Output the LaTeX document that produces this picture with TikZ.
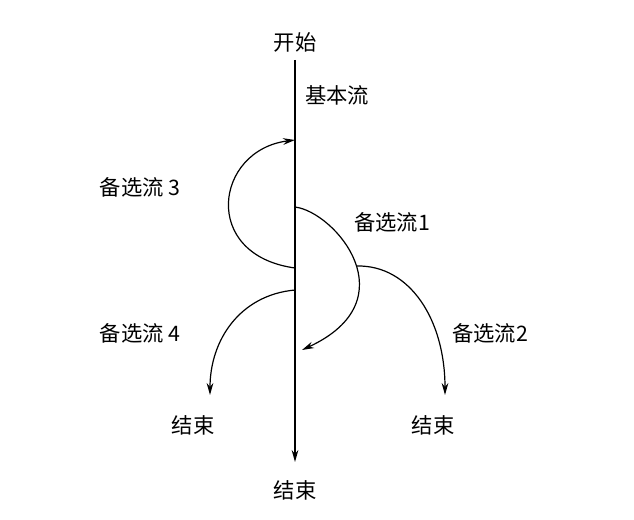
\documentclass[tikz,border=0pt]{standalone}
\usepackage{fontspec}
\newfontfamily\cjk{Noto Sans CJK SC}
\usetikzlibrary{arrows.meta}
\begin{document}
\begin{tikzpicture}[x=0.75pt,y=-0.75pt,
  lbl/.style={font=\cjk\fontsize{16}{19}\selectfont, inner sep=1pt},
  flow/.style={line width=0.9pt,-{Stealth[length=9pt,width=5pt]}}]
\useasboundingbox (0,0) rectangle (634,520);
\node[lbl] (start) at (295,42) {开始};
\node[lbl] (basic) at (337,95) {基本流};
\node[lbl] (end0) at (295,490) {结束};
\node[lbl] (end2) at (433,425) {结束};
\node[lbl] (end4) at (193,425) {结束};
\node[lbl] (l3) at (140,187) {备选流 3};
\node[lbl] (l1) at (392,222) {备选流1};
\node[lbl] (l2) at (490,333) {备选流2};
\node[lbl] (l4) at (140,333) {备选流 4};
\coordinate (top) at (295,60);
\coordinate (bot) at (295,462);
\coordinate (a3s) at (295,268);
\coordinate (a3e) at (295,140);
\coordinate (a1s) at (295,207);
\coordinate (a1e) at (302,350);
\coordinate (a2s) at (357,266);
\coordinate (a2e) at (445,395);
\coordinate (a4s) at (295,290);
\coordinate (a4e) at (210,395);
\draw[flow,line width=1.3pt] (top) -- (bot);
\draw[flow] (a3s) .. controls (200,255) and (215,150) .. (a3e);
\draw[flow] (a1s) .. controls (335,212) and (410,300) .. (a1e);
\draw[flow] (a2s) .. controls (410,265) and (445,320) .. (a2e);
\draw[flow] (a4s) .. controls (240,295) and (210,340) .. (a4e);
\end{tikzpicture}
\end{document}
